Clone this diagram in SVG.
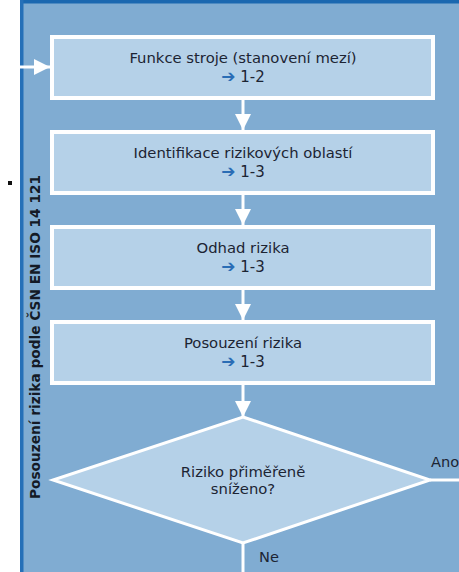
<svg xmlns="http://www.w3.org/2000/svg" width="459" height="572" viewBox="0 0 459 572">
<style>
.box{fill:#b5d1e8;stroke:#ffffff;stroke-width:4}
.dia{fill:#b5d1e8;stroke:#ffffff;stroke-width:3}
.conn{stroke:#ffffff;stroke-width:3;fill:none}
.t{font-family:"DejaVu Sans",Verdana,sans-serif;font-size:14.8px;fill:#1c2433;text-anchor:middle}
.ref{font-family:"DejaVu Sans",Verdana,sans-serif;font-size:15px;fill:#1c2433}
.ar{fill:#2a6db5;font-family:"DejaVu Sans",sans-serif;font-size:17px;font-weight:bold}
.lbl{font-family:"DejaVu Sans",Verdana,sans-serif;font-size:14.6px;fill:#1c2433}
.side{font-family:"DejaVu Sans",Verdana,sans-serif;font-size:13.5px;font-weight:bold;fill:#141a26;text-anchor:middle}
</style>
<defs>
<marker id="ah" viewBox="0 0 10 10" refX="10" refY="5" markerWidth="5.5" markerHeight="5.5" orient="auto" markerUnits="strokeWidth">
<path d="M0,0 L10,5 L0,10 z" fill="#ffffff"/>
</marker>
</defs>
<rect x="0" y="0" width="459" height="572" fill="#ffffff"/>
<rect x="20" y="0" width="439" height="572" fill="#80acd2"/>
<rect x="20" y="0" width="439" height="3.5" fill="#1b68b0"/>
<rect x="20" y="0" width="3.5" height="572" fill="#2570b8"/>
<rect x="8" y="181" width="4" height="4" fill="#111111"/>
<text class="side" transform="translate(40,337) rotate(-90)" textLength="324" lengthAdjust="spacingAndGlyphs">Posouzení rizika podle ČSN EN ISO 14 121</text>

<g id="connectors">
<line class="conn" x1="20" y1="67" x2="50" y2="67" marker-end="url(#ah)"/>
<line class="conn" x1="243" y1="100" x2="243" y2="130" marker-end="url(#ah)"/>
<line class="conn" x1="243" y1="195" x2="243" y2="225" marker-end="url(#ah)"/>
<line class="conn" x1="243" y1="290" x2="243" y2="320" marker-end="url(#ah)"/>
<line class="conn" x1="243" y1="385" x2="243" y2="417" marker-end="url(#ah)"/>
<line class="conn" x1="430" y1="480" x2="459" y2="480"/>
<line class="conn" x1="243" y1="543" x2="243" y2="572"/>
<text class="lbl" x="431" y="467">Ano</text>
<text class="lbl" x="259" y="562">Ne</text>
</g>

<g id="n1">
<rect class="box" x="52" y="37" width="381" height="61"/>
<text class="t" x="243" y="63">Funkce stroje (stanovení mezí)</text>
<text x="243" y="82" text-anchor="middle"><tspan class="ar">➔</tspan><tspan class="ref"> 1-2</tspan></text>
</g>
<g id="n2">
<rect class="box" x="52" y="132" width="381" height="61"/>
<text class="t" x="243" y="158">Identifikace rizikových oblastí</text>
<text x="243" y="177" text-anchor="middle"><tspan class="ar">➔</tspan><tspan class="ref"> 1-3</tspan></text>
</g>
<g id="n3">
<rect class="box" x="52" y="227" width="381" height="61"/>
<text class="t" x="243" y="253">Odhad rizika</text>
<text x="243" y="272" text-anchor="middle"><tspan class="ar">➔</tspan><tspan class="ref"> 1-3</tspan></text>
</g>
<g id="n4">
<rect class="box" x="52" y="322" width="381" height="61"/>
<text class="t" x="243" y="348">Posouzení rizika</text>
<text x="243" y="367" text-anchor="middle"><tspan class="ar">➔</tspan><tspan class="ref"> 1-3</tspan></text>
</g>
<g id="n5">
<polygon class="dia" points="243,417 430,480 243,543 53,480"/>
<text class="t" x="243" y="477">Riziko přiměřeně</text>
<text class="t" x="243" y="494">sníženo?</text>
</g>
</svg>
